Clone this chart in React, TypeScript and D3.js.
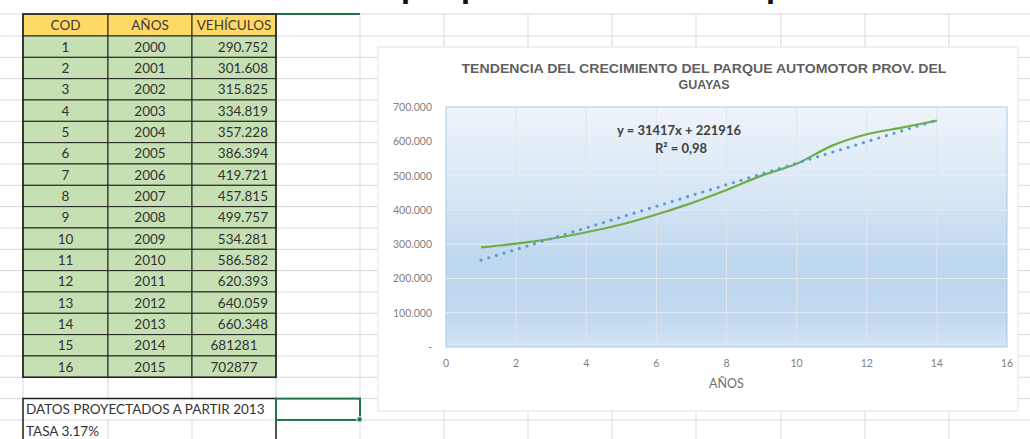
import React from "react";
import * as d3 from "d3";

// ---- data ----
const codes = [1, 2, 3, 4, 5, 6, 7, 8, 9, 10, 11, 12, 13, 14, 15, 16];
const years = [2000, 2001, 2002, 2003, 2004, 2005, 2006, 2007, 2008, 2009, 2010, 2011, 2012, 2013, 2014, 2015];
const vehicleLabels = ["290.752", "301.608", "315.825", "334.819", "357.228", "386.394", "419.721", "457.815", "499.757", "534.281", "586.582", "620.393", "640.059", "660.348", "681281", "702877"];
const vehicleIsText = [false, false, false, false, false, false, false, false, false, false, false, false, false, false, true, true];
const chartX = [1, 2, 3, 4, 5, 6, 7, 8, 9, 10, 11, 12, 13, 14];
const chartY = [290752, 301608, 315825, 334819, 357228, 386394, 419721, 457815, 499757, 534281, 586582, 620393, 640059, 660348];
const trendSlope = 31417;
const trendIntercept = 221916;
const xTicks = [0, 2, 4, 6, 8, 10, 12, 14, 16];
const yTicks = [0, 100000, 200000, 300000, 400000, 500000, 600000, 700000];
const yTickLabels = ["-", "100.000", "200.000", "300.000", "400.000", "500.000", "600.000", "700.000"];
const headers = ["COD", "AÑOS", "VEHÍCULOS"];
const chartTitle = ["TENDENCIA DEL CRECIMIENTO DEL PARQUE AUTOMOTOR PROV. DEL", "GUAYAS"];
const eqText = "y = 31417x + 221916";
const r2Text = "R² = 0,98";
const xAxisTitle = "AÑOS";
const noteLines = ["DATOS PROYECTADOS A PARTIR 2013", "TASA 3.17%"];

// ---- layout ----
const W = 1030, H = 439;
const colEdges = [23, 108, 192, 276, 360, 444, 528, 612, 696, 781, 865, 949, 1033];
const headerTop = 14, headerBottom = 36, rowH = 21.33;
const plot = { left: 446, right: 1007, top: 107, bottom: 347 };
const box = { left: 378, right: 1018, top: 47, bottom: 411 };
const FONT = "Lato, 'Open Sans', sans-serif";

export default function App() {
  const x = d3.scaleLinear().domain([0, 16]).range([plot.left, plot.right]);
  const y = d3.scaleLinear().domain([0, 700000]).range([plot.bottom, plot.top]);
  const line = d3.line<number>().x((_, i) => x(chartX[i])).y((d) => y(d)).curve(d3.curveCatmullRom.alpha(0.5));
  const trendPath = d3.line<number>().x((d) => x(d)).y((d) => y(trendSlope * d + trendIntercept))([chartX[0], chartX[chartX.length - 1]]);

  const rowLines: number[] = [headerTop, headerBottom];
  for (let i = 1; i <= 20; i++) rowLines.push(headerBottom + i * rowH);
  const tableBottom = headerBottom + codes.length * rowH;
  const noteTop = headerBottom + 17 * rowH;
  const noteMid = noteTop + rowH;

  return (
    <svg width={W} height={H} style={{ position: "absolute", left: 0, top: 0, background: "#fff" }} fontFamily={FONT}>
      <defs>
        <linearGradient id="pa" x1="0" y1="0" x2="0" y2="1">
          <stop offset="0%" stopColor="#eff4fa" />
          <stop offset="35%" stopColor="#d8e7f5" />
          <stop offset="65%" stopColor="#bdd7ee" />
          <stop offset="88%" stopColor="#c2daf0" />
          <stop offset="100%" stopColor="#d4e5f4" />
        </linearGradient>
        <clipPath id="topclip"><rect x={0} y={0} width={W} height={13} /></clipPath>
      </defs>
      {/* cut-off heading descenders */}
      <g clipPath="url(#topclip)" fontFamily="'DejaVu Sans', sans-serif" fontWeight="bold" fontSize={26} fill="#111">
        <text x={401} y={-2}>p</text>
        <text x={461} y={-2}>p</text>
        <text x={766} y={-2}>p</text>
      </g>
      {/* sheet gridlines */}
      <g stroke="#d9d9d9" strokeWidth={1}>
        {rowLines.map((r, i) => <line key={"r" + i} x1={0} x2={W} y1={r} y2={r} />)}
        {colEdges.map((c, i) => <line key={"c" + i} x1={c} x2={c} y1={headerTop} y2={H} />)}
      </g>
      <line x1={276} x2={360} y1={headerTop} y2={headerTop} stroke="#217346" strokeWidth={2} />

      {/* table */}
      <g>
        {headers.map((h, j) => (
          <g key={h}>
            <rect x={colEdges[j]} y={headerTop} width={colEdges[j + 1] - colEdges[j]} height={headerBottom - headerTop} fill="#ffd966" stroke="#222" strokeWidth={1} />
            <text x={(colEdges[j] + colEdges[j + 1]) / 2} y={(headerTop + headerBottom) / 2 + 5} textAnchor="middle" fontSize={13.5} fill="#3b3b3b">{h}</text>
          </g>
        ))}
        {codes.map((c, i) => {
          const top = headerBottom + i * rowH;
          const cy = top + rowH / 2 + 5;
          return (
            <g key={c}>
              {[0, 1, 2].map((j) => (
                <rect key={j} x={colEdges[j]} y={top} width={colEdges[j + 1] - colEdges[j]} height={rowH} fill="#c6e0b4" stroke="#222" strokeWidth={1} />
              ))}
              <text x={(colEdges[0] + colEdges[1]) / 2} y={cy} textAnchor="middle" fontSize={13.5} fill="#333">{c}</text>
              <text x={(colEdges[1] + colEdges[2]) / 2} y={cy} textAnchor="middle" fontSize={13.5} fill="#333">{years[i]}</text>
              {vehicleIsText[i] ? (
                <text x={(colEdges[2] + colEdges[3]) / 2} y={cy} textAnchor="middle" fontSize={13.5} fill="#333">{vehicleLabels[i]}</text>
              ) : (
                <text x={colEdges[3] - 8} y={cy} textAnchor="end" fontSize={13.5} fill="#333">{vehicleLabels[i]}</text>
              )}
            </g>
          );
        })}
        <rect x={colEdges[0]} y={headerTop} width={colEdges[3] - colEdges[0]} height={tableBottom - headerTop} fill="none" stroke="#222" strokeWidth={1.5} />
      </g>

      {/* note box */}
      <rect x={colEdges[0] + 1} y={noteTop + 1} width={colEdges[3] - colEdges[0] - 2} height={rowH - 2} fill="#fff" />
      <path d={`M${colEdges[0]},${H + 2}V${noteTop}H${colEdges[3]}V${H + 2}`} fill="none" stroke="#222" strokeWidth={1.5} />
      <text x={colEdges[0] + 3} y={noteTop + rowH / 2 + 5} fontSize={13.5} fill="#333">{noteLines[0]}</text>
      <rect x={colEdges[0] + 1} y={noteMid + 1} width={80} height={rowH - 2} fill="#fff" />
      <text x={colEdges[0] + 3} y={noteMid + rowH / 2 + 5} fontSize={13.5} fill="#333">{noteLines[1]}</text>
      <rect x={276} y={noteTop} width={84} height={rowH} fill="none" stroke="#217346" strokeWidth={2} />
      <rect x={357} y={noteMid - 3} width={5} height={5} fill="#217346" stroke="#fff" strokeWidth={1} />

      {/* chart box */}
      <rect x={box.left} y={box.top} width={box.right - box.left} height={box.bottom - box.top} fill="#fff" stroke="#e3e3e3" strokeWidth={1} />
      {chartTitle.map((t, i) => (
        <text key={i} x={704} y={73 + i * 16} textAnchor="middle" fontFamily="'Liberation Sans', Arial, sans-serif" fontWeight="bold" fontSize={12.5} fill="#5f5f5f"
          textLength={i === 0 ? 485 : undefined} lengthAdjust="spacingAndGlyphs">{t}</text>
      ))}

      {/* plot area */}
      <rect x={plot.left} y={plot.top} width={plot.right - plot.left} height={plot.bottom - plot.top} fill="url(#pa)" stroke="#a9c8e6" strokeWidth={1} />
      <g stroke="#e7edf4" strokeWidth={1}>
        {yTicks.slice(1, -1).map((t) => <line key={t} x1={plot.left} x2={plot.right} y1={y(t)} y2={y(t)} />)}
      </g>
      <g stroke="#dfe5ec" strokeWidth={1}>
        {xTicks.slice(1, -1).map((t) => <line key={t} x1={x(t)} x2={x(t)} y1={plot.top} y2={plot.bottom} />)}
      </g>
      <path d={line(chartY) || ""} fill="none" stroke="#70ad47" strokeWidth={2.2} />
      <path d={trendPath || ""} fill="none" stroke="#5b9bd5" strokeWidth={3.2} strokeDasharray="0 8" strokeLinecap="round" />

      {/* axes labels */}
      {yTicks.map((t, i) => (
        <text key={t} x={432} y={y(t) + 4} textAnchor="end" fontSize={10.5} fill="#7f7f7f">{yTickLabels[i]}</text>
      ))}
      {xTicks.map((t) => (
        <text key={t} x={x(t)} y={367} textAnchor="middle" fontSize={10.5} fill="#7f7f7f">{t}</text>
      ))}
      <text x={x(8)} y={388} textAnchor="middle" fontSize={12.5} fill="#6f6f6f">{xAxisTitle}</text>

      {/* trendline label */}
      <text x={679} y={135} textAnchor="middle" fontSize={13} fontWeight="bold" fill="#404040">{eqText}</text>
      <text x={681} y={153} textAnchor="middle" fontSize={13} fontWeight="bold" fill="#404040">{r2Text}</text>
    </svg>
  );
}
